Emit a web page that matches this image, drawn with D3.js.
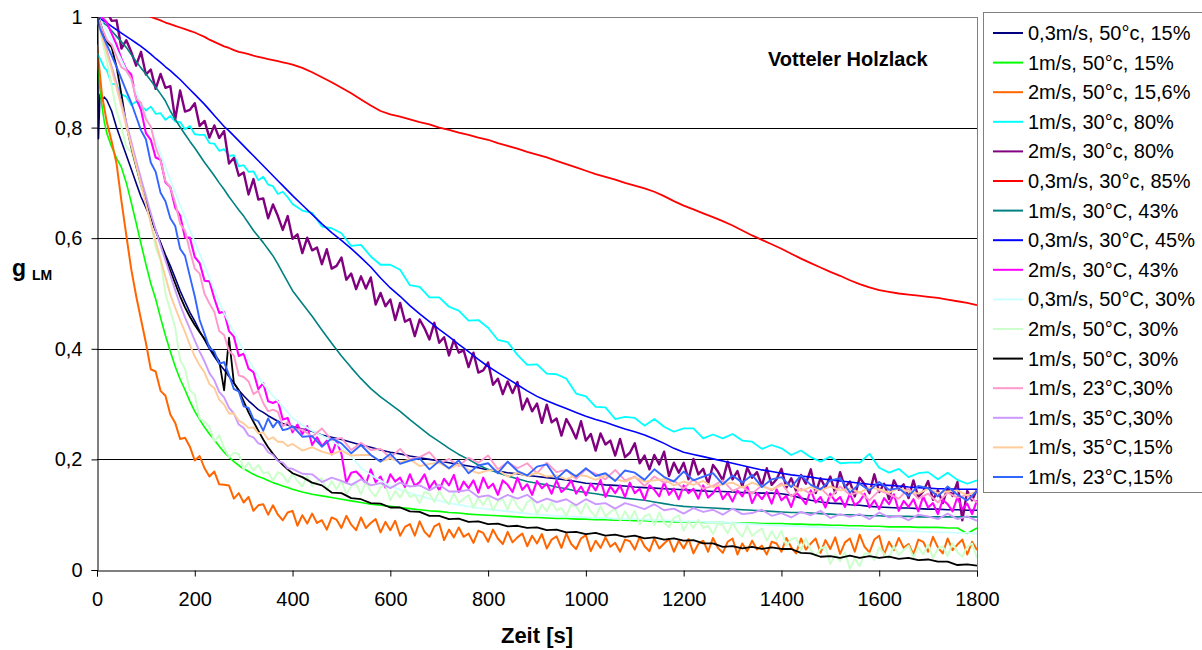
<!DOCTYPE html>
<html>
<head>
<meta charset="utf-8">
<script src="https://cdn.jsdelivr.net/npm/d3@7"></script>
<style>
  body { margin: 0; background: #fff; }
  svg { display: block; font-family: "Liberation Sans", Arial, sans-serif; }
</style>
</head>
<body>
<svg id="chart" width="1202" height="650"></svg>
<script>
// Drying curves g_LM over time for Votteler Holzlack

// sample times (s) for the smoother records
const timeSec = [0, 3, 6, 10, 15,
  20, 30, 40, 50, 60, 70, 80, 90, 100, 110,
  120, 130, 140, 150, 160, 170, 180, 190, 200, 210,
  220, 230, 240, 250, 260, 270, 280, 290, 300, 310,
  320, 330, 340, 350, 360, 370, 380, 390, 400,
  420, 440, 460, 480, 500, 520, 540, 560, 580, 600,
  620, 640, 660, 680, 700, 720, 740, 760, 780, 800,
  820, 840, 860, 880, 900, 920, 940, 960, 980, 1000,
  1020, 1040, 1060, 1080, 1100, 1120, 1140, 1160, 1180, 1200,
  1220, 1240, 1260, 1280, 1300, 1320, 1340, 1360, 1380, 1400,
  1420, 1440, 1460, 1480, 1500, 1520, 1540, 1560, 1580, 1600,
  1620, 1640, 1660, 1680, 1700, 1720, 1740, 1760, 1780, 1800];

// sample times (s) for the noisy records, every 10 s
const timeFine = [0, 10, 20, 30, 40, 50, 60, 70, 80, 90,
  100, 110, 120, 130, 140, 150, 160, 170, 180, 190,
  200, 210, 220, 230, 240, 250, 260, 270, 280, 290,
  300, 310, 320, 330, 340, 350, 360, 370, 380, 390,
  400, 410, 420, 430, 440, 450, 460, 470, 480, 490,
  500, 510, 520, 530, 540, 550, 560, 570, 580, 590,
  600, 610, 620, 630, 640, 650, 660, 670, 680, 690,
  700, 710, 720, 730, 740, 750, 760, 770, 780, 790,
  800, 810, 820, 830, 840, 850, 860, 870, 880, 890,
  900, 910, 920, 930, 940, 950, 960, 970, 980, 990,
  1000, 1010, 1020, 1030, 1040, 1050, 1060, 1070, 1080, 1090,
  1100, 1110, 1120, 1130, 1140, 1150, 1160, 1170, 1180, 1190,
  1200, 1210, 1220, 1230, 1240, 1250, 1260, 1270, 1280, 1290,
  1300, 1310, 1320, 1330, 1340, 1350, 1360, 1370, 1380, 1390,
  1400, 1410, 1420, 1430, 1440, 1450, 1460, 1470, 1480, 1490,
  1500, 1510, 1520, 1530, 1540, 1550, 1560, 1570, 1580, 1590,
  1600, 1610, 1620, 1630, 1640, 1650, 1660, 1670, 1680, 1690,
  1700, 1710, 1720, 1730, 1740, 1750, 1760, 1770, 1780, 1790,
  1800];

const g03ms50c15 = [1.0, 0.78, 0.86, 0.85, 0.855,
  0.85, 0.83, 0.80, 0.775, 0.75, 0.725, 0.70, 0.675, 0.655, 0.635,
  0.613, 0.592, 0.57, 0.55, 0.528, 0.505, 0.485, 0.466, 0.45, 0.432,
  0.416, 0.40, 0.386, 0.373, 0.362, 0.35, 0.338, 0.325, 0.315, 0.306,
  0.298, 0.29, 0.285, 0.279, 0.274, 0.269, 0.265, 0.262, 0.259,
  0.255, 0.251, 0.244, 0.24, 0.236, 0.231, 0.226, 0.222, 0.217, 0.213,
  0.21, 0.206, 0.203, 0.2, 0.197, 0.194, 0.191, 0.188, 0.185, 0.181,
  0.179, 0.176, 0.174, 0.171, 0.169, 0.167, 0.165, 0.163, 0.16, 0.157,
  0.156, 0.154, 0.153, 0.152, 0.15, 0.149, 0.148, 0.147, 0.146, 0.145,
  0.144, 0.143, 0.142, 0.142, 0.141, 0.14, 0.14, 0.139, 0.139, 0.138,
  0.135, 0.13, 0.126, 0.123, 0.121, 0.12, 0.118, 0.117, 0.115, 0.114,
  0.113, 0.112, 0.112, 0.111, 0.11, 0.11, 0.109, 0.109, 0.108, 0.108];

const g1ms50c15 = [0.93, 0.9, 0.87, 0.84, 0.81,
  0.79, 0.765, 0.745, 0.728, 0.7, 0.665, 0.628, 0.59, 0.553, 0.518,
  0.49, 0.456, 0.424, 0.395, 0.368, 0.345, 0.326, 0.305, 0.287, 0.272,
  0.258, 0.246, 0.235, 0.224, 0.213, 0.204, 0.196, 0.189, 0.183, 0.178,
  0.173, 0.169, 0.166, 0.162, 0.158, 0.155, 0.152, 0.149, 0.146,
  0.141, 0.137, 0.134, 0.131, 0.128, 0.125, 0.122, 0.119, 0.117, 0.115,
  0.113, 0.111, 0.109, 0.107, 0.106, 0.104, 0.103, 0.101, 0.1, 0.099,
  0.098, 0.097, 0.096, 0.095, 0.095, 0.094, 0.093, 0.093, 0.092, 0.092,
  0.091, 0.091, 0.09, 0.09, 0.089, 0.089, 0.088, 0.088, 0.087, 0.087,
  0.087, 0.086, 0.086, 0.086, 0.085, 0.085, 0.085, 0.084, 0.084, 0.084,
  0.083, 0.083, 0.082, 0.082, 0.081, 0.081, 0.08, 0.08, 0.079, 0.079,
  0.078, 0.078, 0.078, 0.077, 0.077, 0.077, 0.076, 0.076, 0.066, 0.076];

const g2ms50c156 = [0.95, 0.86, 0.81, 0.775, 0.735, 0.667, 0.605, 0.544, 0.496, 0.453,
  0.411, 0.363, 0.359, 0.324, 0.315, 0.281, 0.266, 0.237, 0.239, 0.223,
  0.198, 0.206, 0.184, 0.169, 0.178, 0.155, 0.154, 0.153, 0.129, 0.139,
  0.122, 0.132, 0.107, 0.117, 0.119, 0.1, 0.117, 0.1, 0.09, 0.104,
  0.107, 0.08, 0.099, 0.084, 0.102, 0.085, 0.09, 0.073, 0.095, 0.091,
  0.076, 0.098, 0.082, 0.072, 0.095, 0.076, 0.085, 0.092, 0.068, 0.087,
  0.072, 0.089, 0.062, 0.078, 0.083, 0.062, 0.088, 0.069, 0.06, 0.079,
  0.084, 0.054, 0.073, 0.059, 0.077, 0.06, 0.066, 0.049, 0.071, 0.067,
  0.051, 0.073, 0.057, 0.047, 0.069, 0.05, 0.059, 0.066, 0.043, 0.062,
  0.048, 0.065, 0.039, 0.055, 0.061, 0.04, 0.066, 0.047, 0.038, 0.057,
  0.063, 0.034, 0.053, 0.04, 0.059, 0.042, 0.049, 0.033, 0.055, 0.052,
  0.037, 0.06, 0.043, 0.034, 0.057, 0.039, 0.048, 0.056, 0.033, 0.053,
  0.039, 0.056, 0.03, 0.047, 0.053, 0.033, 0.058, 0.04, 0.031, 0.051,
  0.057, 0.028, 0.048, 0.034, 0.053, 0.037, 0.044, 0.028, 0.051, 0.048,
  0.033, 0.058, 0.041, 0.03, 0.057, 0.037, 0.048, 0.057, 0.031, 0.054,
  0.038, 0.059, 0.029, 0.05, 0.057, 0.033, 0.064, 0.042, 0.032, 0.055,
  0.062, 0.028, 0.051, 0.036, 0.058, 0.04, 0.047, 0.028, 0.055, 0.051,
  0.033, 0.06, 0.041, 0.03, 0.057, 0.036, 0.046, 0.055, 0.028, 0.051,
  0.036];

const g1ms30c80 = [0.935, 0.93, 0.925, 0.918, 0.908,
  0.904, 0.879, 0.878, 0.86, 0.856, 0.841, 0.847, 0.84, 0.831, 0.838,
  0.825, 0.826, 0.814, 0.821, 0.811, 0.81, 0.797, 0.803, 0.788, 0.787,
  0.787, 0.772, 0.771, 0.758, 0.761, 0.749, 0.75, 0.73, 0.732, 0.72,
  0.721, 0.705, 0.711, 0.697, 0.694, 0.68, 0.684, 0.674, 0.662,
  0.65, 0.646, 0.621, 0.618, 0.609, 0.586, 0.588, 0.567, 0.552, 0.552,
  0.543, 0.515, 0.512, 0.493, 0.493, 0.476, 0.469, 0.451, 0.452, 0.438,
  0.416, 0.412, 0.389, 0.371, 0.372, 0.355, 0.354, 0.346, 0.319, 0.314,
  0.295, 0.294, 0.273, 0.277, 0.275, 0.261, 0.273, 0.259, 0.25, 0.256,
  0.256, 0.238, 0.245, 0.238, 0.246, 0.234, 0.232, 0.219, 0.226, 0.22,
  0.208, 0.216, 0.204, 0.196, 0.205, 0.193, 0.194, 0.194, 0.21, 0.185,
  0.176, 0.183, 0.168, 0.175, 0.177, 0.164, 0.176, 0.163, 0.156, 0.162];

const g2ms30c80 = [1.06, 1.03, 1.01, 0.993, 0.994, 0.943, 0.958, 0.937, 0.912, 0.937,
  0.896, 0.905, 0.87, 0.897, 0.872, 0.875, 0.815, 0.867, 0.829, 0.832,
  0.844, 0.803, 0.812, 0.782, 0.804, 0.781, 0.794, 0.735, 0.745, 0.713,
  0.719, 0.679, 0.707, 0.67, 0.672, 0.636, 0.661, 0.64, 0.615, 0.64,
  0.599, 0.607, 0.573, 0.601, 0.578, 0.583, 0.553, 0.58, 0.545, 0.55,
  0.565, 0.525, 0.536, 0.508, 0.531, 0.509, 0.529, 0.48, 0.501, 0.477,
  0.489, 0.452, 0.483, 0.449, 0.454, 0.423, 0.453, 0.437, 0.417, 0.447,
  0.411, 0.421, 0.388, 0.416, 0.393, 0.397, 0.367, 0.393, 0.357, 0.361,
  0.375, 0.335, 0.346, 0.318, 0.341, 0.32, 0.34, 0.29, 0.31, 0.287,
  0.301, 0.266, 0.299, 0.267, 0.274, 0.243, 0.273, 0.257, 0.238, 0.269,
  0.234, 0.246, 0.216, 0.247, 0.227, 0.234, 0.207, 0.237, 0.204, 0.212,
  0.229, 0.193, 0.207, 0.182, 0.208, 0.191, 0.214, 0.17, 0.194, 0.176,
  0.194, 0.164, 0.201, 0.173, 0.183, 0.156, 0.19, 0.178, 0.162, 0.196,
  0.164, 0.179, 0.151, 0.185, 0.167, 0.177, 0.152, 0.184, 0.154, 0.164,
  0.183, 0.149, 0.166, 0.143, 0.172, 0.156, 0.182, 0.139, 0.166, 0.149,
  0.169, 0.139, 0.177, 0.149, 0.16, 0.133, 0.167, 0.155, 0.139, 0.173,
  0.141, 0.156, 0.128, 0.162, 0.145, 0.155, 0.13, 0.162, 0.132, 0.142,
  0.161, 0.127, 0.144, 0.121, 0.149, 0.134, 0.159, 0.09, 0.143, 0.126,
  0.146];

const g03ms30c85 = [1.07, 1.068, 1.066, 1.063, 1.058,
  1.05, 1.045, 1.04, 1.035, 1.03, 1.025, 1.02, 1.014, 1.008, 1.0,
  0.997, 0.994, 0.99, 0.987, 0.984, 0.981, 0.978, 0.975, 0.972, 0.968,
  0.964, 0.959, 0.955, 0.951, 0.947, 0.944, 0.94, 0.937, 0.935, 0.933,
  0.93, 0.928, 0.926, 0.924, 0.922, 0.92, 0.918, 0.916, 0.914,
  0.908, 0.9, 0.891, 0.882, 0.872, 0.862, 0.851, 0.84, 0.83, 0.824,
  0.82, 0.815, 0.81, 0.806, 0.8, 0.796, 0.791, 0.787, 0.782, 0.778,
  0.772, 0.767, 0.762, 0.756, 0.751, 0.746, 0.74, 0.734, 0.728, 0.722,
  0.716, 0.711, 0.706, 0.7, 0.695, 0.69, 0.684, 0.676, 0.667, 0.659,
  0.652, 0.645, 0.638, 0.631, 0.623, 0.614, 0.605, 0.597, 0.589, 0.581,
  0.572, 0.563, 0.555, 0.547, 0.539, 0.532, 0.524, 0.517, 0.511, 0.506,
  0.503, 0.5, 0.498, 0.496, 0.494, 0.492, 0.489, 0.486, 0.483, 0.479];

const g1ms30C43 = [1.0, 0.998, 0.995, 0.99, 0.988,
  0.985, 0.975, 0.965, 0.955, 0.945, 0.932, 0.92, 0.908, 0.897, 0.885,
  0.873, 0.861, 0.848, 0.83, 0.815, 0.801, 0.788, 0.775, 0.763, 0.75,
  0.737, 0.725, 0.713, 0.7, 0.688, 0.675, 0.663, 0.651, 0.64, 0.627,
  0.614, 0.603, 0.592, 0.58, 0.568, 0.553, 0.537, 0.521, 0.505,
  0.482, 0.459, 0.434, 0.41, 0.387, 0.366, 0.346, 0.328, 0.313, 0.3,
  0.287, 0.272, 0.258, 0.244, 0.232, 0.22, 0.209, 0.2, 0.19, 0.182,
  0.176, 0.17, 0.165, 0.16, 0.157, 0.154, 0.15, 0.147, 0.143, 0.14,
  0.138, 0.135, 0.133, 0.13, 0.128, 0.126, 0.123, 0.12, 0.117, 0.115,
  0.114, 0.113, 0.112, 0.111, 0.11, 0.109, 0.108, 0.107, 0.106, 0.105,
  0.104, 0.104, 0.103, 0.102, 0.101, 0.1, 0.1, 0.099, 0.098, 0.098,
  0.097, 0.097, 0.097, 0.096, 0.096, 0.096, 0.096, 0.096, 0.096, 0.096];

const g03ms30C45 = [1.0, 1.0, 0.998, 0.995, 0.992,
  0.99, 0.983, 0.977, 0.971, 0.965, 0.959, 0.953, 0.947, 0.94, 0.933,
  0.925, 0.918, 0.91, 0.903, 0.895, 0.887, 0.878, 0.869, 0.86, 0.851,
  0.842, 0.832, 0.822, 0.812, 0.802, 0.794, 0.785, 0.776, 0.767, 0.758,
  0.749, 0.74, 0.731, 0.722, 0.713, 0.704, 0.695, 0.686, 0.677,
  0.66, 0.643, 0.626, 0.61, 0.596, 0.581, 0.565, 0.548, 0.528, 0.51,
  0.495, 0.478, 0.463, 0.449, 0.435, 0.422, 0.408, 0.395, 0.381, 0.368,
  0.357, 0.346, 0.335, 0.324, 0.314, 0.306, 0.299, 0.292, 0.285, 0.278,
  0.272, 0.267, 0.261, 0.255, 0.25, 0.244, 0.237, 0.229, 0.22, 0.213,
  0.209, 0.205, 0.201, 0.197, 0.193, 0.189, 0.185, 0.181, 0.178, 0.175,
  0.172, 0.17, 0.168, 0.165, 0.163, 0.161, 0.159, 0.157, 0.155, 0.154,
  0.153, 0.152, 0.15, 0.149, 0.148, 0.147, 0.147, 0.146, 0.146, 0.146];

const g2ms30C43 = [1.03, 1.0, 0.99, 0.97, 0.95, 0.924, 0.905, 0.896, 0.853, 0.832,
  0.79, 0.778, 0.746, 0.742, 0.701, 0.692, 0.655, 0.641, 0.601, 0.601,
  0.566, 0.555, 0.523, 0.522, 0.491, 0.465, 0.467, 0.432, 0.422, 0.387,
  0.391, 0.364, 0.358, 0.327, 0.338, 0.305, 0.302, 0.306, 0.272, 0.275,
  0.249, 0.263, 0.246, 0.26, 0.226, 0.24, 0.224, 0.234, 0.209, 0.233,
  0.21, 0.158, 0.176, 0.178, 0.169, 0.156, 0.182, 0.159, 0.169, 0.149,
  0.173, 0.16, 0.167, 0.15, 0.173, 0.152, 0.159, 0.173, 0.148, 0.161,
  0.144, 0.165, 0.153, 0.172, 0.141, 0.16, 0.148, 0.162, 0.14, 0.167,
  0.148, 0.156, 0.136, 0.162, 0.154, 0.141, 0.167, 0.145, 0.155, 0.136,
  0.161, 0.148, 0.156, 0.138, 0.162, 0.141, 0.149, 0.162, 0.138, 0.151,
  0.135, 0.156, 0.144, 0.163, 0.132, 0.151, 0.139, 0.153, 0.132, 0.158,
  0.139, 0.147, 0.127, 0.153, 0.145, 0.133, 0.158, 0.136, 0.147, 0.128,
  0.153, 0.139, 0.147, 0.129, 0.153, 0.131, 0.139, 0.152, 0.128, 0.14,
  0.124, 0.144, 0.133, 0.151, 0.121, 0.139, 0.128, 0.141, 0.12, 0.146,
  0.126, 0.134, 0.114, 0.14, 0.131, 0.119, 0.144, 0.122, 0.132, 0.113,
  0.138, 0.124, 0.132, 0.114, 0.138, 0.117, 0.124, 0.138, 0.113, 0.126,
  0.11, 0.13, 0.119, 0.137, 0.107, 0.125, 0.114, 0.128, 0.106, 0.133,
  0.113, 0.121, 0.101, 0.127, 0.119, 0.106, 0.132, 0.11, 0.12, 0.101,
  0.126];

const g03ms50C30 = [1.0, 1.0, 0.995, 0.99, 0.982,
  0.975, 0.958, 0.94, 0.922, 0.903, 0.884, 0.864, 0.843, 0.822, 0.8,
  0.777, 0.753, 0.728, 0.705, 0.683, 0.66, 0.637, 0.615, 0.593, 0.571,
  0.55, 0.528, 0.506, 0.485, 0.465, 0.447, 0.43, 0.413, 0.397, 0.38,
  0.365, 0.35, 0.337, 0.326, 0.315, 0.305, 0.295, 0.285, 0.275,
  0.262, 0.252, 0.243, 0.234, 0.222, 0.205, 0.185, 0.172, 0.162, 0.152,
  0.145, 0.139, 0.134, 0.129, 0.125, 0.121, 0.118, 0.115, 0.112, 0.11,
  0.108, 0.106, 0.104, 0.102, 0.1, 0.099, 0.098, 0.097, 0.096, 0.095,
  0.094, 0.094, 0.093, 0.092, 0.092, 0.091, 0.09, 0.09, 0.089, 0.088,
  0.088, 0.087, 0.086, 0.086, 0.085, 0.084, 0.083, 0.082, 0.081, 0.08,
  0.08, 0.079, 0.078, 0.077, 0.077, 0.076, 0.075, 0.074, 0.073, 0.072,
  0.072, 0.071, 0.07, 0.07, 0.069, 0.068, 0.068, 0.067, 0.067, 0.066];

const g2ms50C30 = [1.0, 0.96, 0.92, 0.875, 0.83, 0.801, 0.764, 0.757, 0.73, 0.691,
  0.681, 0.629, 0.582, 0.56, 0.5, 0.469, 0.438, 0.38, 0.364, 0.325,
  0.317, 0.274, 0.268, 0.259, 0.232, 0.244, 0.221, 0.204, 0.212, 0.21,
  0.182, 0.194, 0.18, 0.19, 0.175, 0.177, 0.162, 0.177, 0.172, 0.158,
  0.174, 0.161, 0.151, 0.17, 0.152, 0.16, 0.166, 0.144, 0.161, 0.146,
  0.162, 0.137, 0.152, 0.156, 0.137, 0.16, 0.142, 0.133, 0.15, 0.154,
  0.126, 0.143, 0.131, 0.147, 0.132, 0.136, 0.121, 0.141, 0.138, 0.123,
  0.143, 0.128, 0.119, 0.139, 0.121, 0.129, 0.135, 0.113, 0.131, 0.117,
  0.133, 0.108, 0.124, 0.128, 0.109, 0.132, 0.115, 0.106, 0.123, 0.128,
  0.101, 0.118, 0.106, 0.123, 0.108, 0.112, 0.098, 0.118, 0.115, 0.101,
  0.121, 0.106, 0.096, 0.116, 0.097, 0.105, 0.111, 0.089, 0.106, 0.091,
  0.107, 0.082, 0.097, 0.101, 0.081, 0.104, 0.086, 0.077, 0.094, 0.099,
  0.071, 0.088, 0.076, 0.091, 0.076, 0.08, 0.065, 0.084, 0.081, 0.066,
  0.086, 0.07, 0.06, 0.08, 0.062, 0.069, 0.075, 0.053, 0.07, 0.055,
  0.071, 0.044, 0.056, 0.058, 0.036, 0.057, 0.036, 0.025, 0.039, 0.042,
  0.011, 0.028, 0.016, 0.032, 0.002, 0.021, 0.007, 0.03, 0.03, 0.018,
  0.041, 0.029, 0.021, 0.043, 0.027, 0.036, 0.044, 0.023, 0.041, 0.028,
  0.046, 0.022, 0.038, 0.043, 0.025, 0.049, 0.032, 0.024, 0.042, 0.048,
  0.021];

const g1ms50C30 = [1.0, 1.0, 0.99, 0.98, 0.965,
  0.955, 0.945, 0.91, 0.86, 0.805, 0.765, 0.73, 0.698, 0.668, 0.64,
  0.614, 0.59, 0.565, 0.541, 0.518, 0.495, 0.475, 0.458, 0.443, 0.43,
  0.418, 0.404, 0.39, 0.378, 0.325, 0.42, 0.338, 0.325, 0.305, 0.285,
  0.268, 0.252, 0.236, 0.222, 0.21, 0.199, 0.19, 0.182, 0.175,
  0.168, 0.158, 0.153, 0.14, 0.139, 0.13, 0.128, 0.121, 0.12, 0.113,
  0.113, 0.106, 0.105, 0.098, 0.098, 0.092, 0.093, 0.087, 0.088, 0.083,
  0.084, 0.079, 0.08, 0.076, 0.077, 0.072, 0.073, 0.068, 0.069, 0.065,
  0.067, 0.062, 0.064, 0.06, 0.062, 0.057, 0.059, 0.055, 0.057, 0.053,
  0.054, 0.048, 0.048, 0.042, 0.043, 0.039, 0.042, 0.038, 0.041, 0.038,
  0.038, 0.031, 0.03, 0.024, 0.025, 0.022, 0.026, 0.022, 0.025, 0.022,
  0.024, 0.02, 0.022, 0.018, 0.019, 0.015, 0.015, 0.009, 0.01, 0.008];

const g1ms23C30 = [1.0, 0.995, 0.99, 0.98, 0.97,
  0.959, 0.95, 0.929, 0.909, 0.903, 0.889, 0.852, 0.845, 0.815, 0.802,
  0.765, 0.741, 0.703, 0.692, 0.664, 0.626, 0.614, 0.577, 0.545, 0.536,
  0.499, 0.482, 0.467, 0.432, 0.425, 0.396, 0.388, 0.352, 0.349, 0.341,
  0.318, 0.324, 0.302, 0.287, 0.29, 0.286, 0.26, 0.267, 0.254,
  0.254, 0.241, 0.256, 0.235, 0.239, 0.217, 0.23, 0.217, 0.219, 0.203,
  0.219, 0.2, 0.204, 0.213, 0.193, 0.201, 0.188, 0.203, 0.194, 0.207,
  0.182, 0.195, 0.184, 0.193, 0.175, 0.194, 0.177, 0.181, 0.165, 0.182,
  0.174, 0.164, 0.181, 0.162, 0.169, 0.152, 0.169, 0.158, 0.162, 0.147,
  0.164, 0.147, 0.152, 0.162, 0.143, 0.151, 0.138, 0.153, 0.144, 0.157,
  0.133, 0.147, 0.138, 0.148, 0.131, 0.151, 0.136, 0.141, 0.126, 0.144,
  0.137, 0.129, 0.147, 0.129, 0.138, 0.122, 0.14, 0.131, 0.136, 0.122];

const g1ms35C30 = [1.0, 0.99, 0.98, 0.97, 0.955,
  0.94, 0.91, 0.88, 0.845, 0.81, 0.775, 0.74, 0.708, 0.676, 0.645,
  0.615, 0.587, 0.56, 0.533, 0.506, 0.48, 0.457, 0.436, 0.415, 0.395,
  0.377, 0.356, 0.343, 0.322, 0.312, 0.293, 0.283, 0.263, 0.257, 0.243,
  0.24, 0.229, 0.226, 0.213, 0.208, 0.197, 0.194, 0.184, 0.183,
  0.174, 0.173, 0.159, 0.167, 0.161, 0.154, 0.164, 0.153, 0.157, 0.148,
  0.158, 0.151, 0.153, 0.144, 0.154, 0.142, 0.142, 0.145, 0.132, 0.135,
  0.127, 0.136, 0.129, 0.136, 0.122, 0.129, 0.123, 0.128, 0.117, 0.128,
  0.119, 0.121, 0.111, 0.121, 0.116, 0.11, 0.119, 0.108, 0.111, 0.102,
  0.112, 0.105, 0.109, 0.1, 0.111, 0.101, 0.103, 0.109, 0.098, 0.103,
  0.095, 0.105, 0.099, 0.107, 0.094, 0.101, 0.096, 0.101, 0.092, 0.104,
  0.095, 0.098, 0.09, 0.1, 0.097, 0.092, 0.102, 0.092, 0.097, 0.089];

const g1ms35C15 = [1.0, 0.99, 0.98, 0.965, 0.95,
  0.935, 0.905, 0.872, 0.838, 0.802, 0.767, 0.732, 0.697, 0.662, 0.627,
  0.594, 0.562, 0.53, 0.498, 0.474, 0.452, 0.43, 0.407, 0.386, 0.37,
  0.357, 0.336, 0.329, 0.308, 0.299, 0.283, 0.283, 0.27, 0.265, 0.257,
  0.258, 0.247, 0.249, 0.236, 0.24, 0.232, 0.232, 0.224, 0.228,
  0.216, 0.222, 0.214, 0.209, 0.216, 0.207, 0.208, 0.208, 0.196, 0.202,
  0.195, 0.2, 0.188, 0.192, 0.194, 0.183, 0.191, 0.181, 0.175, 0.18,
  0.181, 0.169, 0.176, 0.17, 0.176, 0.169, 0.171, 0.164, 0.172, 0.17,
  0.163, 0.171, 0.164, 0.16, 0.168, 0.16, 0.162, 0.164, 0.153, 0.16,
  0.154, 0.161, 0.15, 0.155, 0.158, 0.149, 0.158, 0.151, 0.146, 0.153,
  0.154, 0.143, 0.15, 0.144, 0.151, 0.144, 0.147, 0.14, 0.149, 0.146,
  0.14, 0.148, 0.142, 0.138, 0.147, 0.139, 0.142, 0.144, 0.135, 0.143];

const g1ms23C15 = [1.0, 0.99, 0.98, 0.97, 0.96,
  0.95, 0.93, 0.91, 0.888, 0.866, 0.845, 0.82, 0.795, 0.779, 0.737,
  0.72, 0.682, 0.667, 0.636, 0.622, 0.581, 0.568, 0.531, 0.495, 0.452,
  0.427, 0.402, 0.395, 0.373, 0.376, 0.353, 0.327, 0.323, 0.296, 0.293,
  0.273, 0.269, 0.252, 0.274, 0.258, 0.27, 0.253, 0.255, 0.26,
  0.241, 0.242, 0.223, 0.238, 0.229, 0.211, 0.226, 0.208, 0.196, 0.21,
  0.192, 0.198, 0.202, 0.182, 0.197, 0.184, 0.198, 0.175, 0.189, 0.193,
  0.175, 0.196, 0.179, 0.171, 0.187, 0.191, 0.165, 0.181, 0.169, 0.184,
  0.17, 0.175, 0.161, 0.18, 0.176, 0.163, 0.182, 0.168, 0.16, 0.178,
  0.162, 0.169, 0.175, 0.155, 0.171, 0.158, 0.172, 0.15, 0.164, 0.168,
  0.15, 0.171, 0.154, 0.146, 0.162, 0.166, 0.14, 0.156, 0.144, 0.159,
  0.145, 0.148, 0.134, 0.152, 0.148, 0.133, 0.151, 0.136, 0.126, 0.143];

const seriesNames = [
  "0,3m/s, 50°c, 15%", "1m/s, 50°c, 15%", "2m/s, 50°c, 15,6%", "1m/s, 30°c, 80%",
  "2m/s, 30°c, 80%", "0,3m/s, 30°c, 85%", "1m/s, 30°C, 43%", "0,3m/s, 30°C, 45%",
  "2m/s, 30°C, 43%", "0,3m/s, 50°C, 30%", "2m/s, 50°C, 30%", "1m/s, 50°C, 30%",
  "1m/s, 23°C,30%", "1m/s, 35°C,30%", "1m/s, 35°C,15%", "1m/s, 23°C,15%"];
const seriesValues = [
  g03ms50c15, g1ms50c15, g2ms50c156, g1ms30c80, g2ms30c80, g03ms30c85,
  g1ms30C43, g03ms30C45, g2ms30C43, g03ms50C30, g2ms50C30, g1ms50C30,
  g1ms23C30, g1ms35C30, g1ms35C15, g1ms23C15];
const seriesTimes = [
  timeSec, timeSec, timeFine, timeSec, timeFine, timeSec,
  timeSec, timeSec, timeFine, timeSec, timeFine, timeSec,
  timeSec, timeSec, timeSec, timeSec];
const seriesColors = [
  "#000080", "#00ff00", "#ff6600", "#00ffff", "#800080", "#ff0000",
  "#008080", "#0000ff", "#ff00ff", "#ccffff", "#ccffcc", "#000000",
  "#ff99cc", "#cc99ff", "#ffcc99", "#3366ff"];

const xTicks = [0, 200, 400, 600, 800, 1000, 1200, 1400, 1600, 1800];
const yTicks = [0, 0.2, 0.4, 0.6, 0.8, 1];

const svg = d3.select("#chart");
const plot = { left: 97, right: 977, top: 17, bottom: 570 };

const x = d3.scaleLinear().domain([0, 1800]).range([plot.left, plot.right]);
const y = d3.scaleLinear().domain([0, 1]).range([plot.bottom, plot.top]);

svg.append("rect").attr("width", 1202).attr("height", 650).attr("fill", "#fff");

svg.append("defs").append("clipPath").attr("id", "plotClip")
  .append("rect")
  .attr("x", plot.left).attr("y", plot.top)
  .attr("width", plot.right - plot.left).attr("height", plot.bottom - plot.top);

// horizontal gridlines
svg.append("g").selectAll("line")
  .data(yTicks.filter(v => v > 0))
  .join("line")
  .attr("x1", plot.left).attr("x2", plot.right)
  .attr("y1", d => Math.round(y(d)) + 0.5).attr("y2", d => Math.round(y(d)) + 0.5)
  .attr("stroke", d => d === 1 ? "#808080" : "#000")
  .attr("stroke-width", 1);

// right border of the plot area
svg.append("line")
  .attr("x1", plot.right + 0.5).attr("x2", plot.right + 0.5)
  .attr("y1", plot.top).attr("y2", plot.bottom)
  .attr("stroke", "#808080");

// series
const widths = [1.6, 1.6, 2, 1.8, 2.4, 1.8, 1.6, 1.6, 2.1, 1.8, 2, 1.8, 1.9, 1.9, 1.9, 1.9];

svg.append("g").attr("clip-path", "url(#plotClip)")
  .selectAll("path")
  .data(seriesValues.map((vals, k) => ({ vals, times: seriesTimes[k], k })))
  .join("path")
  .attr("d", s => d3.line()
    .x((d, i) => x(s.times[i]))
    .y(d => y(d))(s.vals))
  .attr("fill", "none")
  .attr("stroke", s => seriesColors[s.k])
  .attr("stroke-width", s => widths[s.k])
  .attr("stroke-linejoin", "round");

// axes
const fmt = v => String(v).replace(".", ",");

const yAxis = svg.append("g")
  .attr("transform", `translate(${plot.left + 0.5},0)`)
  .call(d3.axisLeft(y).tickValues(yTicks).tickSize(6).tickPadding(9).tickFormat(fmt));
yAxis.select(".domain").attr("stroke", "#000");
yAxis.selectAll("text").attr("font-size", 20).attr("fill", "#000")
  .attr("font-family", "Liberation Sans, Arial, sans-serif");

const xAxis = svg.append("g")
  .attr("transform", `translate(0,${plot.bottom + 0.5})`)
  .call(d3.axisBottom(x).tickValues(xTicks).tickSize(6).tickPadding(15).tickFormat(fmt));
xAxis.select(".domain").attr("stroke", "#000");
xAxis.selectAll("text").attr("font-size", 20).attr("fill", "#000")
  .attr("font-family", "Liberation Sans, Arial, sans-serif");

// axis titles
svg.append("text")
  .attr("x", 537).attr("y", 643)
  .attr("text-anchor", "middle")
  .attr("font-size", 22).attr("font-weight", "bold")
  .text("Zeit [s]");

const yTitle = svg.append("text")
  .attr("x", 12).attr("y", 276)
  .attr("font-weight", "bold");
yTitle.append("tspan").attr("font-size", 23).text("g");
yTitle.append("tspan").attr("font-size", 14).attr("dx", 6).attr("dy", 4).text("LM");

// chart label
svg.append("text")
  .attr("x", 768).attr("y", 66)
  .attr("font-size", 20).attr("font-weight", "bold")
  .text("Votteler Holzlack");

// legend
const legend = svg.append("g");
legend.append("rect")
  .attr("x", 983.5).attr("y", 12.5)
  .attr("width", 240).attr("height", 480)
  .attr("fill", "#fff").attr("stroke", "#808080");

const rowY = i => 33 + i * 29.6;
const rows = legend.selectAll("g.row")
  .data(seriesNames)
  .join("g").attr("class", "row");
rows.append("line")
  .attr("x1", 993).attr("x2", 1023)
  .attr("y1", (d, i) => rowY(i)).attr("y2", (d, i) => rowY(i))
  .attr("stroke", (d, i) => seriesColors[i])
  .attr("stroke-width", 2);
rows.append("text")
  .attr("x", 1028).attr("y", (d, i) => rowY(i) + 7)
  .attr("font-size", 20)
  .attr("fill", "#000")
  .text(d => d);
</script>
</body>
</html>
